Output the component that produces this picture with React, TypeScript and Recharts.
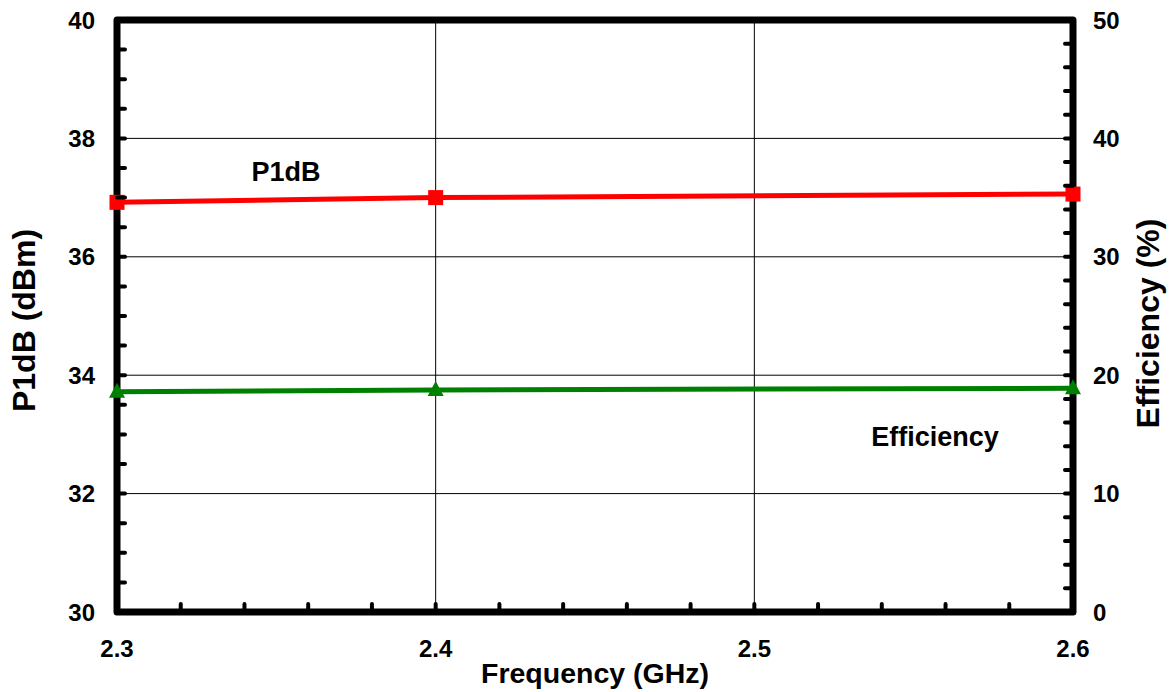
import React from 'react'
import { ComposedChart, Line, XAxis, YAxis, ReferenceLine, ReferenceArea, ReferenceDot, Label } from 'recharts'

// values
const frequency = [2.3, 2.4, 2.6]
const p1dB = [36.92, 37.0, 37.06]
const efficiency = [18.6, 18.75, 18.9]

// axes
const xMajorTicks = [2.3, 2.4, 2.5, 2.6]
const leftMajorTicks = [30, 32, 34, 36, 38, 40]
const rightMajorTicks = [0, 10, 20, 30, 40, 50]
const xGridLines = [2.4, 2.5]
const yGridLines = [32, 34, 36, 38]

const range = (start: number, stop: number, step: number) => {
  const out: number[] = []
  const n = Math.round((stop - start) / step)
  for (let i = 0; i <= n; i++) out.push(Math.round((start + i * step) * 1000) / 1000)
  return out
}

const xTicks = range(2.3, 2.6, 0.02)
const leftTicks = range(30, 40, 0.5)
const rightTicks = range(0, 50, 2)

const data = frequency.map((f, i) => ({ freq: f, p1dB: p1dB[i], eff: efficiency[i] }))

const FONT = '"Liberation Sans", Arial, sans-serif'
const tickText = { fontFamily: FONT, fontWeight: 700, fontSize: 24, fill: '#000' }
const xTitleText = { fontFamily: FONT, fontWeight: 700, fontSize: 28.5, fill: '#000' }
const yTitleText = { fontFamily: FONT, fontWeight: 700, fontSize: 32, fill: '#000' }
const noteText = { fontFamily: FONT, fontWeight: 700, fontSize: 27, fill: '#000' }

const isMajor = (v: number, majors: number[]) => majors.some(m => Math.abs(m - v) < 1e-6)

const XTick = ({ x, y, payload }: any) => {
  const v = payload.value
  return (
    <g>
      <line x1={x} y1={y} x2={x} y2={y - 8} stroke="#000" strokeWidth={4} strokeLinecap="round" />
      {isMajor(v, xMajorTicks) && (
        <text x={x} y={y + 45} textAnchor="middle" style={tickText}>{v.toFixed(1)}</text>
      )}
    </g>
  )
}

const LeftTick = ({ x, y, payload }: any) => {
  const v = payload.value
  return (
    <g>
      <line x1={x} y1={y} x2={x + 8} y2={y} stroke="#000" strokeWidth={4} strokeLinecap="round" />
      {isMajor(v, leftMajorTicks) && (
        <text x={x - 22} y={y + 8.5} textAnchor="end" style={tickText}>{v}</text>
      )}
    </g>
  )
}

const RightTick = ({ x, y, payload }: any) => {
  const v = payload.value
  return (
    <g>
      <line x1={x} y1={y} x2={x - 8} y2={y} stroke="#000" strokeWidth={4} strokeLinecap="round" />
      {isMajor(v, rightMajorTicks) && (
        <text x={x + 20} y={y + 8.5} textAnchor="start" style={tickText}>{v}</text>
      )}
    </g>
  )
}

const SquareDot = ({ cx, cy, index }: any) => (
  <rect key={'sq' + index} x={cx - 7.5} y={cy - 7.5} width={15} height={15} fill="#ff0000" />
)

const TriangleDot = ({ cx, cy, index }: any) => (
  <polygon key={'tr' + index} points={`${cx},${cy - 9} ${cx + 8},${cy + 6} ${cx - 8},${cy + 6}`} fill="#008000" />
)

export default function App() {
  return (
    <div style={{ position: 'absolute', left: 0, top: 0, width: 1169, height: 692, background: '#fff' }}>
      <ComposedChart width={1169} height={692} data={data} margin={{ top: 20, right: 0, bottom: 0, left: 0 }}>
        <ReferenceArea
          yAxisId="left"
          x1={2.3}
          x2={2.6}
          y1={30}
          y2={40}
          fill="none"
          stroke="#000"
          strokeWidth={7}
          strokeLinejoin="round"
        />
        {xGridLines.map(v => (
          <ReferenceLine key={'gx' + v} yAxisId="left" x={v} stroke="#000" strokeWidth={1} />
        ))}
        {yGridLines.map(v => (
          <ReferenceLine key={'gy' + v} yAxisId="left" y={v} stroke="#000" strokeWidth={1} />
        ))}
        <XAxis
          dataKey="freq"
          type="number"
          domain={[2.3, 2.6]}
          ticks={xTicks}
          interval={0}
          height={80}
          tickSize={0}
          tickMargin={0}
          tickLine={false}
          axisLine={false}
          tick={(p: any) => <XTick {...p} />}
        >
          <Label
            content={({ viewBox }: any) => (
              <text x={viewBox.x + viewBox.width / 2} y={viewBox.y + 71} textAnchor="middle" style={xTitleText}>
                Frequency (GHz)
              </text>
            )}
          />
        </XAxis>
        <YAxis
          yAxisId="left"
          domain={[30, 40]}
          ticks={leftTicks}
          interval={0}
          width={117}
          tickSize={0}
          tickMargin={0}
          tickLine={false}
          axisLine={false}
          tick={(p: any) => <LeftTick {...p} />}
        >
          <Label
            content={({ viewBox }: any) => {
              const cx = viewBox.x + 24
              const cy = viewBox.y + viewBox.height / 2 + 4.5
              return (
                <text x={cx} y={cy} dy={11} textAnchor="middle" transform={`rotate(-90, ${cx}, ${cy})`} style={yTitleText}>
                  P1dB (dBm)
                </text>
              )
            }}
          />
        </YAxis>
        <YAxis
          yAxisId="right"
          orientation="right"
          domain={[0, 50]}
          ticks={rightTicks}
          interval={0}
          width={96}
          tickSize={0}
          tickMargin={0}
          tickLine={false}
          axisLine={false}
          tick={(p: any) => <RightTick {...p} />}
        >
          <Label
            content={({ viewBox }: any) => {
              const cx = viewBox.x + 74.5
              const cy = viewBox.y + viewBox.height / 2 + 7.5
              return (
                <text x={cx} y={cy} dy={11} textAnchor="middle" transform={`rotate(-90, ${cx}, ${cy})`} style={yTitleText}>
                  Efficiency (%)
                </text>
              )
            }}
          />
        </YAxis>
        <Line
          yAxisId="left"
          dataKey="p1dB"
          stroke="#ff0000"
          strokeWidth={5}
          dot={(p: any) => <SquareDot key={'s' + p.index} {...p} />}
          activeDot={false}
          isAnimationActive={false}
        />
        <Line
          yAxisId="right"
          dataKey="eff"
          stroke="#008000"
          strokeWidth={5}
          dot={(p: any) => <TriangleDot key={'t' + p.index} {...p} />}
          activeDot={false}
          isAnimationActive={false}
        />
        <ReferenceDot
          yAxisId="left"
          x={2.353}
          y={37.45}
          r={0}
          label={{ value: 'P1dB', position: 'center', style: noteText }}
        />
        <ReferenceDot
          yAxisId="left"
          x={2.5567}
          y={32.96}
          r={0}
          label={{ value: 'Efficiency', position: 'center', style: noteText }}
        />
      </ComposedChart>
    </div>
  )
}
